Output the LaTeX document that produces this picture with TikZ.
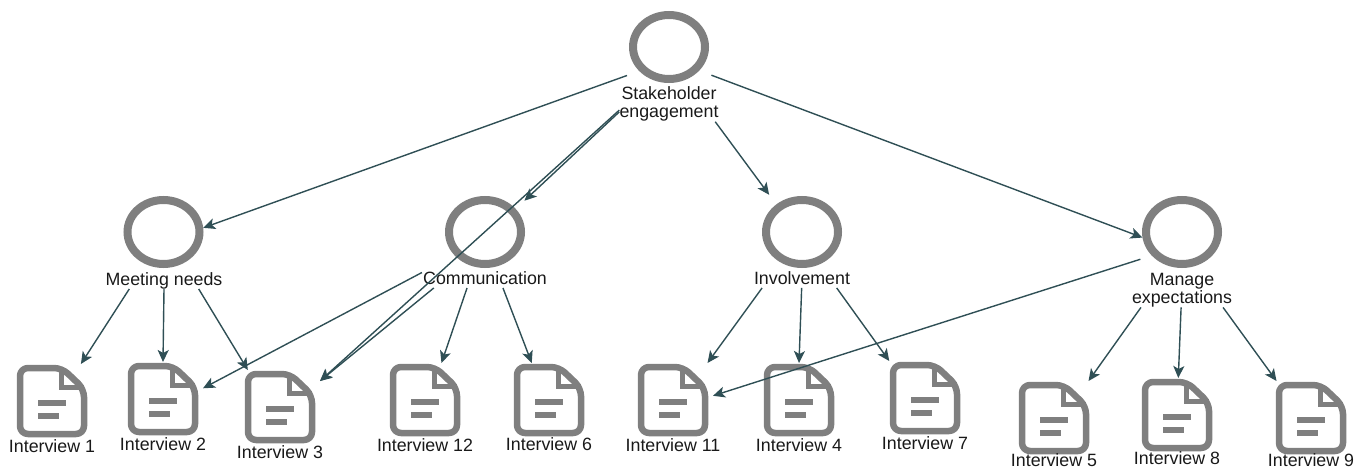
\documentclass[tikz,border=0pt]{standalone}
\usepackage{fontspec}
\setmainfont{Liberation Sans}
\usetikzlibrary{shapes.geometric,arrows.meta}
\definecolor{ringgray}{HTML}{7F7F7F}
\definecolor{linkteal}{HTML}{2F4F55}
\tikzset{
  topic/.style={draw=ringgray,line width=8pt,ellipse,minimum width=72pt,minimum height=64pt,inner sep=0pt},
  docbox/.style={rectangle,minimum width=80pt,minimum height=74pt,inner sep=0pt,outer sep=0pt},
  lbl/.style={align=center,inner sep=0pt,text=black!90,font=\fontsize{17.8}{18.5}\selectfont},
  one/.style={lbl,inner sep=1pt,text height=15pt,text depth=2.5pt},
  low/.style={lbl,text height=13pt,text depth=0pt},
  link/.style={->,draw=linkteal,line width=1.4pt},
  docicon/.pic={
    \draw[ringgray,line width=6.5pt,rounded corners=8pt,line join=round] (10,-33) -- (-32,-33) -- (-32,33) -- (32,33) -- (32,-12) -- cycle;
    \draw[ringgray,line width=5pt] (9,-33) -- (9,-14) -- (32,-14);
    \draw[ringgray,line width=6pt] (-14,2) -- (14,2);
    \draw[ringgray,line width=6pt] (-14,15) -- (7,15);
  }
}
\begin{document}
\begin{tikzpicture}[>={Stealth[length=12pt,width=11pt,inset=3pt]},x=1pt,y=-1pt]
\useasboundingbox (0,0) rectangle (1364,468);
% themes
\node[topic] (top) at (669,47) {};
\node[lbl] (st) at (669,104) {Stakeholder\\engagement};
\node[topic] (mn) at (163.5,232) {};
\node[one] (mt) at (164,279) {Meeting needs};
\node[topic] (co) at (485,232) {};
\node[one] (ct) at (485,278) {Communication};
\node[topic] (in) at (802,232) {};
\node[one] (it) at (802,278) {Involvement};
\node[topic] (ma) at (1182,232) {};
\node[lbl] (at) at (1182,290) {Manage\\expectations};
% interviews
\node[docbox] (i1) at (52,401) {}; \pic at (i1) {docicon};
\node[one] (l1) at (52,446) {Interview 1};
\node[docbox] (i2) at (163,399) {}; \pic at (i2) {docicon};
\node[one] (l2) at (163,444) {Interview 2};
\node[docbox] (i3) at (280,407) {}; \pic at (i3) {docicon};
\node[one] (l3) at (280,452) {Interview 3};
\node[docbox] (i12) at (425,400) {}; \pic at (i12) {docicon};
\node[one] (l12) at (425,445) {Interview 12};
\node[docbox] (i6) at (549,400) {}; \pic at (i6) {docicon};
\node[one] (l6) at (549,444) {Interview 6};
\node[docbox] (i11) at (673,400) {}; \pic at (i11) {docicon};
\node[one] (l11) at (673,445) {Interview 11};
\node[docbox] (i4) at (799,400) {}; \pic at (i4) {docicon};
\node[one] (l4) at (799,445) {Interview 4};
\node[docbox] (i7) at (925,398) {}; \pic at (i7) {docicon};
\node[one] (l7) at (925,443) {Interview 7};
\node[docbox] (i5) at (1054,418) {}; \pic at (i5) {docicon};
\node[low] (l5) at (1054,460) {Interview 5};
\node[docbox] (i8) at (1177,415) {}; \pic at (i8) {docicon};
\node[one] (l8) at (1177,458) {Interview 8};
\node[docbox] (i9) at (1311,418) {}; \pic at (i9) {docicon};
\node[low] (l9) at (1311,460) {Interview 9};
% links
\draw[link,shorten <=13pt] (top.219) -- (mn.6);
\draw[link,shorten >=12pt] (st.189) -- (co.37);
\draw[link] (st.187) -- (i3.33);
\draw[link,shorten >=12pt] (st.339) -- (in.133);
\draw[link,shorten <=13pt] (top.322) -- (ma.188);
\draw[link] (mt.196) -- (i1.52);
\draw[link] (mt.270) -- (i2.90);
\draw[link] (mt.344) -- (i3.131);
\draw[link] (ct.175) -- (i2.15);
\draw[link] (ct.191) -- (i3.33);
\draw[link] (ct.209) -- (i12.66);
\draw[link] (ct.331) -- (i6.115);
\draw[link] (it.194) -- (i11.47);
\draw[link] (it.268) -- (i4.90);
\draw[link] (it.344) -- (i7.134);
\draw[link,shorten <=12pt] (ma.218) -- (i11.6);
\draw[link] (at.203) -- (i5.47);
\draw[link] (at.267) -- (i8.88);
\draw[link] (at.337) -- (i9.133);
\end{tikzpicture}
\end{document}
